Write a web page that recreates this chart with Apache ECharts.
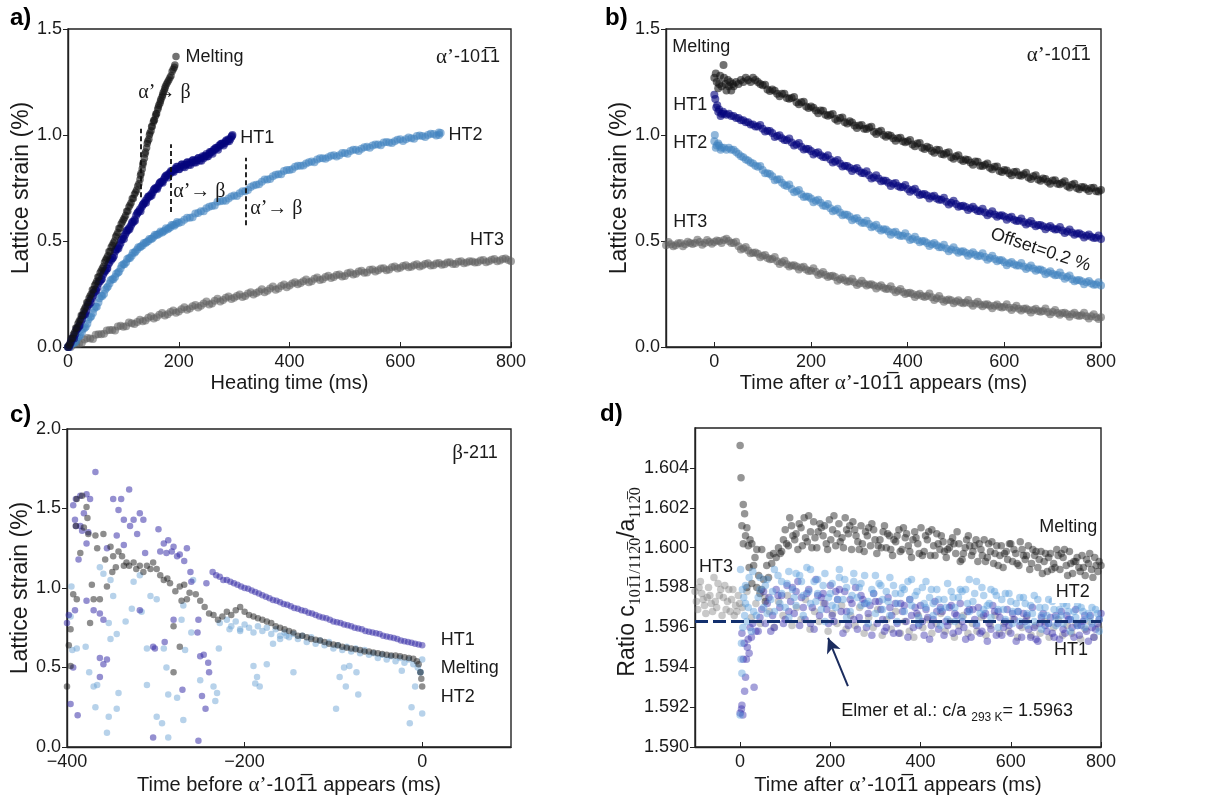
<!DOCTYPE html>
<html><head><meta charset="utf-8">
<script src="https://cdn.jsdelivr.net/npm/echarts@6/dist/echarts.min.js"></script>
<style>html,body{margin:0;padding:0;background:#fff}#c{width:1212px;height:803px}</style>
</head><body><div id="c"></div>
<script>
// ---------------- DATA ----------------
// Panel a: heating time (ms) vs lattice strain (%)
const aMelting = [[0,0.00],[2,0.01],[4,0.02],[6,0.04],[8,0.04],[10,0.06],[12,0.07],[14,0.09],[16,0.09],[18,0.11],[20,0.12],[22,0.13],[24,0.15],[26,0.15],[28,0.17],[30,0.18],[32,0.19],[34,0.21],[36,0.21],[38,0.23],[40,0.24],[42,0.25],[44,0.27],[46,0.27],[48,0.29],[50,0.30],[52,0.31],[54,0.33],[56,0.33],[58,0.35],[60,0.36],[62,0.37],[64,0.38],[66,0.40],[68,0.41],[70,0.42],[72,0.43],[74,0.45],[76,0.45],[78,0.47],[80,0.48],[82,0.49],[84,0.50],[86,0.52],[88,0.53],[90,0.54],[92,0.56],[94,0.56],[96,0.58],[98,0.59],[100,0.60],[102,0.61],[104,0.62],[106,0.64],[108,0.64],[110,0.66],[112,0.67],[114,0.68],[116,0.70],[118,0.70],[120,0.72],[122,0.73],[124,0.74],[126,0.76],[128,0.77],[130,0.79],[131,0.81],[132,0.82],[134,0.84],[135,0.86],[136,0.87],[138,0.89],[139,0.91],[140,0.92],[142,0.94],[143,0.96],[144,0.97],[146,0.98],[147,1.00],[148,1.01],[150,1.02],[151,1.04],[152,1.04],[154,1.06],[155,1.07],[156,1.07],[158,1.09],[159,1.10],[160,1.10],[162,1.12],[163,1.13],[164,1.14],[166,1.15],[167,1.16],[168,1.17],[170,1.18],[171,1.19],[172,1.20],[174,1.21],[175,1.22],[176,1.23],[178,1.24],[180,1.25],[182,1.26],[184,1.27],[186,1.28],[188,1.30],[190,1.31],[192,1.32],[193,1.33],[195,1.37]];
const aHT1 = [[0,0.00],[3,0.01],[5,0.02],[8,0.04],[10,0.05],[13,0.06],[15,0.08],[18,0.09],[20,0.10],[23,0.12],[25,0.13],[28,0.15],[30,0.16],[33,0.17],[35,0.19],[38,0.20],[40,0.22],[43,0.23],[45,0.24],[48,0.26],[50,0.27],[53,0.28],[55,0.30],[58,0.31],[60,0.32],[63,0.34],[65,0.35],[68,0.36],[70,0.37],[73,0.39],[75,0.40],[78,0.41],[80,0.42],[83,0.43],[85,0.45],[88,0.46],[90,0.47],[93,0.48],[95,0.49],[98,0.51],[100,0.52],[103,0.53],[105,0.54],[108,0.55],[110,0.56],[113,0.57],[115,0.58],[118,0.59],[120,0.60],[123,0.62],[125,0.63],[128,0.64],[130,0.65],[133,0.66],[135,0.67],[138,0.68],[140,0.69],[143,0.70],[145,0.71],[148,0.71],[150,0.72],[153,0.73],[155,0.74],[158,0.75],[160,0.75],[163,0.76],[165,0.77],[168,0.78],[170,0.78],[173,0.79],[175,0.80],[178,0.81],[180,0.81],[183,0.82],[185,0.82],[188,0.83],[190,0.83],[193,0.84],[195,0.84],[198,0.85],[200,0.84],[203,0.85],[205,0.86],[208,0.85],[210,0.86],[213,0.86],[215,0.87],[218,0.86],[220,0.87],[223,0.87],[225,0.88],[228,0.87],[230,0.88],[233,0.88],[235,0.89],[238,0.88],[240,0.89],[243,0.90],[245,0.89],[248,0.90],[250,0.91],[253,0.90],[255,0.91],[258,0.92],[260,0.92],[263,0.93],[265,0.93],[268,0.94],[270,0.94],[273,0.95],[275,0.95],[278,0.96],[280,0.96],[283,0.96],[285,0.97],[288,0.97],[290,0.98],[293,0.98],[295,0.99],[297,1.00]];
const aHT1b = [[2,0.0],[6,0.03],[11,0.04],[16,0.085],[21,0.1],[26,0.145],[31,0.155],[36,0.2],[41,0.21],[46,0.255],[51,0.265],[56,0.31],[61,0.32],[66,0.36],[71,0.37],[76,0.415],[81,0.42],[86,0.46],[91,0.465],[96,0.505],[101,0.51],[106,0.55],[111,0.555],[116,0.59],[121,0.595],[126,0.635],[131,0.64],[136,0.675],[141,0.68],[146,0.71],[151,0.715],[156,0.745],[161,0.745],[166,0.775],[171,0.775],[176,0.805],[181,0.8],[186,0.83],[191,0.825],[196,0.85],[201,0.838],[206,0.862],[211,0.848],[216,0.872],[221,0.858],[226,0.882],[231,0.87],[236,0.892],[241,0.878],[246,0.9],[251,0.898],[256,0.92],[261,0.912],[266,0.938],[271,0.93],[276,0.958],[281,0.95],[286,0.975],[291,0.97],[296,0.995]];
const aHT2 = [[0,0.00],[5,0.01],[10,0.02],[15,0.03],[20,0.05],[25,0.07],[30,0.09],[35,0.11],[40,0.14],[45,0.16],[50,0.19],[55,0.21],[60,0.24],[65,0.25],[70,0.28],[75,0.30],[80,0.32],[85,0.33],[90,0.35],[95,0.37],[100,0.39],[105,0.40],[110,0.42],[115,0.43],[120,0.445],[125,0.46],[130,0.47],[135,0.48],[140,0.49],[145,0.50],[150,0.51],[155,0.52],[160,0.53],[165,0.535],[170,0.54],[175,0.55],[180,0.555],[185,0.565],[190,0.575],[195,0.58],[200,0.585],[210,0.60],[220,0.61],[230,0.63],[240,0.64],[250,0.655],[260,0.665],[270,0.685],[280,0.69],[290,0.70],[300,0.715],[310,0.725],[320,0.735],[330,0.755],[340,0.765],[350,0.78],[360,0.79],[370,0.805],[380,0.815],[390,0.83],[400,0.835],[410,0.85],[420,0.855],[430,0.865],[440,0.875],[450,0.885],[460,0.89],[470,0.895],[480,0.905],[490,0.905],[500,0.915],[510,0.925],[520,0.93],[530,0.935],[540,0.945],[550,0.95],[560,0.955],[570,0.965],[580,0.965],[590,0.97],[600,0.98],[610,0.98],[620,0.985],[630,0.995],[640,0.995],[650,1.0],[660,1.005],[670,1.0],[673,1.01]];
const aHT2b = [[2,0.0],[7,0.015],[12,0.02],[17,0.045],[22,0.055],[27,0.085],[32,0.095],[37,0.13],[42,0.145],[47,0.18],[52,0.19],[57,0.23],[62,0.24],[67,0.27],[72,0.285],[77,0.315],[82,0.32],[87,0.345],[92,0.355],[97,0.385],[102,0.39],[107,0.415],[112,0.42],[117,0.445],[122,0.45],[127,0.47],[132,0.475],[137,0.49],[142,0.495],[147,0.51],[152,0.512],[157,0.53],[162,0.53],[167,0.545],[172,0.545],[177,0.56],[182,0.56],[187,0.575],[192,0.572],[197,0.59],[205,0.59],[215,0.61],[225,0.612],[235,0.632],[245,0.64],[255,0.662],[265,0.668],[275,0.688],[285,0.69],[295,0.71],[305,0.712],[315,0.735],[325,0.74],[335,0.762],[345,0.768],[355,0.79],[365,0.792],[375,0.812],[385,0.815],[395,0.835],[405,0.838],[415,0.855],[425,0.856],[435,0.872],[445,0.872],[455,0.89],[465,0.888],[475,0.902],[485,0.898],[495,0.915],[505,0.912],[515,0.93],[525,0.925],[535,0.942],[545,0.94],[555,0.955],[565,0.952],[575,0.967],[585,0.962],[595,0.978],[605,0.972],[615,0.988],[625,0.982],[635,0.998],[645,0.99],[655,1.006],[665,0.998],[670,1.012]];
const aHT3 = [[0,0.0],[10,0.012],[20,0.015],[30,0.035],[40,0.04],[50,0.058],[60,0.06],[70,0.078],[80,0.08],[90,0.097],[100,0.095],[110,0.115],[120,0.108],[130,0.128],[140,0.125],[150,0.145],[160,0.14],[170,0.16],[180,0.155],[190,0.172],[200,0.168],[210,0.188],[220,0.182],[230,0.198],[240,0.195],[250,0.215],[260,0.205],[270,0.228],[280,0.222],[290,0.238],[300,0.232],[310,0.248],[320,0.24],[330,0.258],[340,0.255],[350,0.272],[360,0.265],[370,0.285],[380,0.276],[390,0.295],[400,0.29],[410,0.305],[420,0.302],[430,0.318],[440,0.31],[450,0.328],[460,0.32],[470,0.336],[480,0.33],[490,0.342],[500,0.335],[510,0.352],[520,0.346],[530,0.36],[540,0.352],[550,0.366],[560,0.362],[570,0.372],[580,0.366],[590,0.38],[600,0.374],[610,0.386],[620,0.378],[630,0.39],[640,0.384],[650,0.395],[660,0.386],[670,0.396],[680,0.39],[690,0.4],[700,0.392],[710,0.405],[720,0.398],[730,0.403],[740,0.4],[750,0.41],[760,0.405],[770,0.415],[780,0.408],[790,0.418],[800,0.405]];
const aHT3b = [[5,0.0],[15,0.015],[25,0.02],[35,0.042],[45,0.038],[55,0.06],[65,0.062],[75,0.08],[85,0.078],[95,0.1],[105,0.098],[115,0.112],[125,0.118],[135,0.122],[145,0.138],[155,0.135],[165,0.152],[175,0.148],[185,0.165],[195,0.162],[205,0.178],[215,0.176],[225,0.192],[235,0.186],[245,0.205],[255,0.2],[265,0.218],[275,0.215],[285,0.232],[295,0.226],[305,0.24],[315,0.236],[325,0.252],[335,0.248],[345,0.262],[355,0.258],[365,0.276],[375,0.27],[385,0.288],[395,0.282],[405,0.3],[415,0.296],[425,0.31],[435,0.306],[445,0.322],[455,0.316],[465,0.33],[475,0.325],[485,0.34],[495,0.332],[505,0.348],[515,0.342],[525,0.356],[535,0.35],[545,0.364],[555,0.356],[565,0.37],[575,0.362],[585,0.376],[595,0.37],[605,0.382],[615,0.376],[625,0.386],[635,0.38],[645,0.392],[655,0.385],[665,0.394],[675,0.388],[685,0.398],[695,0.392],[705,0.402],[715,0.395],[725,0.404],[735,0.398],[745,0.408],[755,0.4],[765,0.412],[775,0.405],[785,0.415],[795,0.41]];

// Panel b: time after alpha' appears (ms) vs lattice strain (%)
const bMelting = [[0,1.27],[3,1.29],[5,1.25],[8,1.22],[10,1.24],[12,1.28],[15,1.23],[19,1.33],[20,1.27],[23,1.24],[25,1.21],[28,1.26],[30,1.23],[33,1.25],[35,1.21],[38,1.24],[40,1.23],[45,1.25],[50,1.24],[55,1.26],[60,1.25],[65,1.27],[70,1.26],[75,1.25],[80,1.27],[85,1.26],[90,1.25],[95,1.24],[100,1.235],[110,1.215],[120,1.215],[130,1.195],[140,1.195],[150,1.175],[160,1.175],[170,1.155],[180,1.155],[190,1.135],[200,1.135],[210,1.115],[220,1.115],[230,1.095],[240,1.095],[250,1.075],[260,1.08],[270,1.06],[280,1.065],[290,1.045],[300,1.045],[310,1.03],[320,1.035],[330,1.015],[340,1.015],[350,1.0],[360,1.0],[370,0.985],[380,0.985],[390,0.97],[400,0.97],[410,0.955],[420,0.96],[430,0.94],[440,0.945],[450,0.925],[460,0.93],[470,0.91],[480,0.915],[490,0.895],[500,0.90],[510,0.885],[520,0.885],[530,0.87],[540,0.875],[550,0.855],[560,0.86],[570,0.845],[580,0.85],[590,0.83],[600,0.835],[610,0.82],[620,0.825],[630,0.81],[640,0.815],[650,0.80],[660,0.805],[670,0.79],[680,0.795],[690,0.78],[700,0.785],[710,0.77],[720,0.775],[730,0.76],[740,0.765],[750,0.75],[760,0.755],[770,0.745],[780,0.75],[790,0.735],[800,0.74]];
const bMeltingb = [[105,1.237],[115,1.207],[125,1.209],[135,1.183],[145,1.194],[155,1.171],[165,1.179],[175,1.145],[185,1.157],[195,1.127],[205,1.129],[215,1.103],[225,1.114],[235,1.091],[245,1.099],[255,1.067],[265,1.082],[275,1.054],[285,1.059],[295,1.033],[305,1.047],[315,1.028],[325,1.039],[335,1.005],[345,1.02],[355,0.992],[365,0.997],[375,0.973],[385,0.987],[395,0.966],[405,0.977],[415,0.947],[425,0.962],[435,0.934],[445,0.939],[455,0.916],[465,0.929],[475,0.908],[485,0.919],[495,0.888],[505,0.904],[515,0.877],[525,0.882],[535,0.86],[545,0.874],[555,0.854],[565,0.866],[575,0.838],[585,0.852],[595,0.825],[605,0.832],[615,0.81],[625,0.827],[635,0.808],[645,0.822],[655,0.792],[665,0.81],[675,0.784],[685,0.792],[695,0.77],[705,0.787],[715,0.768],[725,0.782],[735,0.752],[745,0.77],[755,0.744],[765,0.754],[775,0.736],[785,0.751],[795,0.734]];
const bHT1 = [[0,1.19],[2,1.17],[4,1.13],[6,1.14],[8,1.11],[10,1.12],[13,1.09],[15,1.10],[18,1.11],[20,1.10],[25,1.095],[30,1.10],[35,1.09],[40,1.09],[45,1.08],[50,1.08],[55,1.07],[60,1.07],[65,1.06],[70,1.06],[75,1.05],[80,1.05],[85,1.04],[90,1.04],[100,1.03],[110,1.02],[120,1.01],[130,0.995],[140,0.985],[150,0.975],[160,0.965],[170,0.955],[180,0.945],[190,0.935],[200,0.925],[210,0.915],[220,0.905],[230,0.895],[240,0.885],[250,0.875],[260,0.865],[270,0.855],[280,0.845],[290,0.84],[300,0.83],[310,0.82],[320,0.81],[330,0.80],[340,0.795],[350,0.785],[360,0.775],[370,0.77],[380,0.76],[390,0.755],[400,0.745],[410,0.74],[420,0.73],[430,0.72],[440,0.715],[450,0.71],[460,0.70],[470,0.695],[480,0.685],[490,0.68],[500,0.675],[510,0.665],[520,0.66],[530,0.655],[540,0.65],[550,0.64],[560,0.635],[570,0.63],[580,0.625],[590,0.62],[600,0.615],[610,0.61],[620,0.60],[630,0.595],[640,0.59],[650,0.585],[660,0.58],[670,0.575],[680,0.57],[690,0.565],[700,0.56],[710,0.555],[720,0.55],[730,0.545],[740,0.54],[750,0.535],[760,0.53],[770,0.525],[780,0.52],[790,0.515],[800,0.51]];
const bHT1b = [[95,1.047],[105,1.017],[115,1.019],[125,0.99],[135,0.999],[145,0.976],[155,0.984],[165,0.95],[175,0.962],[185,0.932],[195,0.934],[205,0.908],[215,0.919],[225,0.896],[235,0.904],[245,0.87],[255,0.882],[265,0.852],[275,0.854],[285,0.83],[295,0.844],[305,0.821],[315,0.829],[325,0.795],[335,0.81],[345,0.782],[355,0.784],[365,0.76],[375,0.774],[385,0.754],[395,0.764],[405,0.732],[415,0.747],[425,0.717],[435,0.722],[445,0.7],[455,0.714],[465,0.694],[475,0.704],[485,0.672],[495,0.69],[505,0.662],[515,0.666],[525,0.646],[535,0.661],[545,0.641],[555,0.652],[565,0.622],[575,0.64],[585,0.614],[595,0.622],[605,0.6],[615,0.614],[625,0.594],[635,0.606],[645,0.578],[655,0.594],[665,0.57],[675,0.576],[685,0.556],[695,0.571],[705,0.554],[715,0.566],[725,0.538],[735,0.554],[745,0.53],[755,0.536],[765,0.516],[775,0.531],[785,0.514],[795,0.526]];
const bHT2 = [[0,0.97],[1,1.00],[3,0.94],[5,0.95],[8,0.96],[10,0.95],[13,0.93],[15,0.94],[20,0.94],[25,0.93],[30,0.94],[35,0.93],[40,0.93],[45,0.92],[50,0.91],[55,0.90],[60,0.895],[65,0.885],[70,0.88],[75,0.87],[80,0.865],[85,0.855],[90,0.85],[100,0.835],[110,0.82],[120,0.805],[130,0.79],[140,0.775],[150,0.76],[160,0.745],[170,0.735],[180,0.72],[190,0.71],[200,0.70],[210,0.69],[220,0.68],[230,0.665],[240,0.655],[250,0.645],[260,0.635],[270,0.625],[280,0.615],[290,0.605],[300,0.595],[310,0.585],[320,0.58],[330,0.57],[340,0.56],[350,0.555],[360,0.545],[370,0.54],[380,0.53],[390,0.525],[400,0.52],[410,0.51],[420,0.505],[430,0.50],[440,0.49],[450,0.485],[460,0.48],[470,0.47],[480,0.465],[490,0.46],[500,0.455],[510,0.45],[520,0.445],[530,0.44],[540,0.435],[550,0.43],[560,0.425],[570,0.42],[580,0.415],[590,0.41],[600,0.40],[610,0.395],[620,0.39],[630,0.385],[640,0.38],[650,0.375],[660,0.37],[670,0.365],[680,0.36],[690,0.35],[700,0.345],[710,0.34],[720,0.335],[730,0.33],[740,0.32],[750,0.315],[760,0.31],[770,0.305],[780,0.30],[790,0.295],[800,0.29]];
const bHT2b = [[95,0.854],[105,0.82],[115,0.816],[125,0.786],[135,0.791],[145,0.764],[155,0.766],[165,0.73],[175,0.74],[185,0.707],[195,0.709],[205,0.683],[215,0.694],[225,0.668],[235,0.674],[245,0.64],[255,0.652],[265,0.622],[275,0.624],[285,0.598],[295,0.609],[305,0.586],[315,0.596],[325,0.565],[335,0.577],[345,0.55],[355,0.554],[365,0.53],[375,0.544],[385,0.524],[395,0.536],[405,0.505],[415,0.52],[425,0.494],[435,0.499],[445,0.476],[455,0.491],[465,0.471],[475,0.482],[485,0.452],[495,0.47],[505,0.444],[515,0.452],[525,0.43],[535,0.447],[545,0.428],[555,0.442],[565,0.412],[575,0.43],[585,0.404],[595,0.409],[605,0.386],[615,0.401],[625,0.384],[635,0.396],[645,0.368],[655,0.384],[665,0.36],[675,0.366],[685,0.343],[695,0.357],[705,0.338],[715,0.352],[725,0.322],[735,0.337],[745,0.31],[755,0.316],[765,0.296],[775,0.311],[785,0.294],[795,0.306]];
const bHT3 = [[-100,0.48],[-90,0.485],[-80,0.48],[-70,0.49],[-60,0.485],[-50,0.49],[-40,0.49],[-30,0.495],[-20,0.49],[-10,0.495],[0,0.495],[10,0.50],[20,0.505],[30,0.50],[40,0.49],[50,0.475],[60,0.465],[70,0.455],[80,0.445],[90,0.44],[100,0.43],[110,0.42],[120,0.415],[130,0.405],[140,0.40],[150,0.39],[160,0.385],[170,0.38],[180,0.375],[190,0.365],[200,0.36],[210,0.355],[220,0.345],[230,0.34],[240,0.335],[250,0.33],[260,0.32],[270,0.315],[280,0.31],[290,0.305],[300,0.30],[310,0.30],[320,0.295],[330,0.29],[340,0.285],[350,0.28],[360,0.275],[370,0.27],[380,0.265],[390,0.26],[400,0.255],[410,0.25],[420,0.245],[430,0.24],[440,0.24],[450,0.235],[460,0.23],[470,0.225],[480,0.22],[490,0.22],[500,0.215],[510,0.21],[520,0.21],[530,0.205],[540,0.205],[550,0.20],[560,0.20],[570,0.195],[580,0.195],[590,0.19],[600,0.19],[610,0.185],[620,0.185],[630,0.18],[640,0.18],[650,0.175],[660,0.175],[670,0.17],[680,0.17],[690,0.165],[700,0.165],[710,0.16],[720,0.16],[730,0.155],[740,0.155],[750,0.15],[760,0.15],[770,0.145],[780,0.145],[790,0.14],[800,0.14]];
const bHT3b = [[-95,0.495],[-85,0.475],[-75,0.489],[-65,0.475],[-55,0.497],[-45,0.486],[-35,0.506],[-25,0.482],[-15,0.505],[-5,0.487],[5,0.502],[15,0.491],[25,0.511],[35,0.491],[45,0.496],[55,0.46],[65,0.472],[75,0.442],[85,0.446],[95,0.423],[105,0.434],[115,0.414],[125,0.424],[135,0.392],[145,0.407],[155,0.38],[165,0.386],[175,0.366],[185,0.379],[195,0.358],[205,0.372],[215,0.34],[225,0.354],[235,0.33],[245,0.336],[255,0.313],[265,0.327],[275,0.308],[285,0.322],[295,0.292],[305,0.312],[315,0.29],[325,0.296],[335,0.276],[345,0.291],[355,0.274],[365,0.286],[375,0.258],[385,0.274],[395,0.25],[405,0.256],[415,0.236],[425,0.251],[435,0.236],[445,0.252],[455,0.222],[465,0.24],[475,0.214],[485,0.224],[495,0.206],[505,0.221],[515,0.206],[525,0.222],[535,0.195],[545,0.214],[555,0.192],[565,0.202],[575,0.183],[585,0.201],[595,0.186],[605,0.202],[615,0.175],[625,0.194],[635,0.172],[645,0.182],[655,0.163],[665,0.181],[675,0.166],[685,0.182],[695,0.155],[705,0.174],[715,0.152],[725,0.162],[735,0.143],[745,0.161],[755,0.146],[765,0.162],[775,0.135],[785,0.154],[795,0.132]];

// Panel c: time before alpha' appears (ms) vs beta-211 lattice strain (%)
const cHT1 = [[-368,1.73],[-390,1.56],[-385,1.58],[-378,1.59],[-374,1.56],[-391,1.43],[-385,1.39],[-390,1.39],[-383,1.36],[-378,1.28],[-387,1.18],[-391,0.86],[-378,0.92],[-398,0.83],[-370,0.86],[-363,0.84],[-359,0.80],[-355,0.55],[-363,0.56],[-359,0.52],[-363,0.44],[-396,0.27],[-388,0.20],[-348,1.56],[-342,1.49],[-339,1.56],[-330,1.62],[-336,1.43],[-329,1.39],[-321,1.34],[-318,1.47],[-314,1.43],[-336,1.27],[-344,1.33],[-297,1.37],[-291,1.28],[-286,1.30],[-280,1.26],[-295,1.23],[-288,1.22],[-282,1.23],[-276,1.20],[-273,1.21],[-265,1.25],[-312,1.22],[-303,0.63],[-301,0.62],[-280,0.80],[-270,0.36],[-250,0.57],[-246,0.58],[-241,0.53],[-240,0.47],[-248,0.32],[-244,0.24],[-252,0.04],[-303,0.06],[-261,1.10],[-260,1.04],[-252,0.80],[-243,1.03],[-253,0.72],[-376,1.35],[-381,1.47],[-393,1.52],[-355,1.25],[-325,1.43],[-400,0.78],[-393,0.50],[-268,1.17],[-290,0.66],[-318,0.86],
 [-236,1.10],[-232,1.08],[-228,1.07],[-224,1.05],[-220,1.05],[-216,1.04],[-212,1.03],[-208,1.02],[-204,1.01],[-200,1.00],[-196,0.995],[-192,0.985],[-188,0.975],[-184,0.965],[-180,0.955],[-176,0.945],[-172,0.935],[-168,0.925],[-164,0.92],[-160,0.91],[-156,0.90],[-152,0.895],[-148,0.885],[-144,0.875],[-140,0.87],[-136,0.86],[-132,0.855],[-128,0.845],[-124,0.84],[-120,0.83],[-116,0.82],[-112,0.815],[-108,0.81],[-104,0.80],[-100,0.79],[-96,0.785],[-92,0.78],[-88,0.77],[-84,0.765],[-80,0.76],[-76,0.75],[-72,0.745],[-68,0.74],[-64,0.73],[-60,0.725],[-56,0.72],[-52,0.715],[-48,0.71],[-44,0.70],[-40,0.695],[-36,0.69],[-32,0.685],[-28,0.68],[-24,0.67],[-20,0.665],[-16,0.66],[-12,0.655],[-8,0.65],[-4,0.645],[0,0.64]];
const cMelting = [[-389,1.56],[-383,1.58],[-378,1.51],[-377,1.44],[-390,1.39],[-381,1.38],[-376,1.34],[-366,1.25],[-385,1.22],[-368,1.33],[-359,1.34],[-351,1.26],[-342,1.23],[-348,1.20],[-338,1.20],[-333,1.16],[-325,1.16],[-318,1.14],[-310,1.14],[-303,1.16],[-299,1.12],[-291,1.05],[-284,1.03],[-273,1.01],[-372,1.02],[-370,0.93],[-393,0.96],[-389,0.93],[-396,0.74],[-355,1.01],[-363,0.93],[-374,0.78],[-280,0.76],[-280,0.47],[-273,0.63],[-265,0.93],[-271,0.92],[-400,0.38],[-398,0.64],[-396,0.51],[-345,1.13],[-330,1.14],[-322,1.12],[-314,1.10],[-306,1.12],[-295,1.08],[-287,1.06],[-278,0.98],[-268,1.02],[-262,0.97],[-357,1.18],[-349,1.10],[-336,1.14],
 [-255,0.96],[-250,0.92],[-245,0.88],[-240,0.84],[-235,0.83],[-230,0.80],[-225,0.82],[-220,0.85],[-215,0.83],[-210,0.86],[-205,0.88],[-200,0.85],[-195,0.83],[-190,0.82],[-185,0.81],[-180,0.80],[-175,0.79],[-170,0.78],[-165,0.76],[-160,0.75],[-155,0.74],[-150,0.73],[-145,0.72],[-140,0.70],[-135,0.70],[-130,0.69],[-125,0.68],[-120,0.675],[-115,0.67],[-110,0.66],[-105,0.65],[-100,0.645],[-95,0.64],[-90,0.63],[-85,0.625],[-80,0.62],[-75,0.615],[-70,0.61],[-65,0.60],[-60,0.60],[-55,0.595],[-50,0.59],[-45,0.585],[-40,0.58],[-35,0.575],[-30,0.575],[-25,0.57],[-20,0.565],[-15,0.56],[-10,0.555],[-6,0.54],[-4,0.52],[-2,0.47],[-1,0.43],[0,0.38]];
const cHT2 = [[-395,1.01],[-396,0.82],[-394,0.61],[-389,0.62],[-379,0.63],[-375,0.47],[-370,0.38],[-366,0.39],[-368,0.25],[-355,0.09],[-353,0.19],[-344,0.24],[-342,0.34],[-353,0.78],[-351,0.68],[-344,0.71],[-334,0.79],[-327,0.87],[-316,0.85],[-363,1.13],[-351,1.05],[-359,1.09],[-318,1.08],[-325,1.04],[-310,0.62],[-310,0.39],[-299,0.19],[-293,0.15],[-286,0.06],[-291,0.62],[-288,0.50],[-286,0.33],[-276,0.31],[-269,0.17],[-267,0.61],[-271,0.80],[-269,0.89],[-258,1.05],[-260,0.72],[-250,0.42],[-235,0.38],[-231,0.34],[-233,0.29],[-229,0.62],[-228,0.78],[-217,0.74],[-205,0.73],[-190,0.51],[-188,0.40],[-183,0.38],[-186,0.44],[-175,0.52],[-160,0.68],[-145,0.47],[-97,0.24],[-93,0.44],[-86,0.38],[-88,0.50],[-82,0.51],[-72,0.33],[-74,0.47],[-23,0.48],[-14,0.15],[-12,0.25],[-8,0.38],[-2,0.47],[0,0.21],[0,0.55],[-168,0.65],[-153,0.70],[-306,0.95],[-299,0.93],[-348,0.95],
 [-220,0.80],[-215,0.76],[-210,0.79],[-205,0.74],[-200,0.77],[-195,0.75],[-190,0.72],[-185,0.76],[-180,0.73],[-175,0.75],[-170,0.71],[-165,0.74],[-160,0.70],[-155,0.72],[-150,0.69],[-145,0.71],[-140,0.68],[-135,0.70],[-130,0.66],[-125,0.69],[-120,0.65],[-115,0.67],[-110,0.64],[-105,0.66],[-100,0.62],[-95,0.64],[-90,0.61],[-85,0.63],[-80,0.60],[-75,0.62],[-70,0.59],[-65,0.61],[-60,0.58],[-55,0.59],[-50,0.56],[-45,0.58],[-40,0.55],[-35,0.57],[-30,0.54],[-25,0.56],[-20,0.53],[-15,0.55],[-10,0.52],[-5,0.50],[-2,0.47]];

// Panel d: time after alpha' appears (ms) vs c/a ratio
const dMelting = [[0,1.60512],[2,1.6035],[7,1.60216],[10,1.6017],[4,1.6011],[15,1.6010],[7,1.6002],[18,1.6001],[26,1.6002],[37,1.5999],[48,1.5999],[12,1.6006],[22,1.6004],[30,1.5991],[37,1.5980],[44,1.5977],[15,1.5980],[52,1.5984],[59,1.5991],[66,1.5996],[74,1.5997],[89,1.5997],[96,1.6004],[56,1.5973],[63,1.5985],[70,1.5992],[80,1.5995],[85,1.6000],[92,1.5998],[41,1.5986],[33,1.5995],[26,1.5982],[20,1.5990],[48,1.5979],
 [100,1.6009],[107,1.6001],[114,1.6011],[121,1.6004],[128,1.5999],[135,1.6010],[142,1.6015],[149,1.6003],[156,1.6008],[163,1.6013],[170,1.6000],[177,1.6012],[184,1.6006],[191,1.6002],[198,1.6014],[205,1.6009],[212,1.6001],[219,1.6012],[226,1.6005],[233,1.6015],[240,1.6007],[247,1.5999],[254,1.6009],[261,1.6003],[268,1.6011],[275,1.5998],[282,1.6006],[289,1.6001],[296,1.6009],[303,1.5997],[310,1.6004],[317,1.6008],[324,1.6000],[331,1.6006],[338,1.5996],[345,1.6003],[352,1.6009],[359,1.5999],[366,1.6005],[373,1.6001],[380,1.5995],[387,1.6008],[394,1.6002],[401,1.6010],[408,1.5998],[415,1.6004],[422,1.5996],[429,1.6001],[436,1.6007],[443,1.5999],[450,1.6003],[457,1.5995],[464,1.6000],[471,1.6005],[478,1.5997],[485,1.6002],[492,1.5994],[499,1.6000],[506,1.6006],[513,1.5996],[520,1.6001],[527,1.5993],[534,1.5999],[541,1.6004],[548,1.5995],[555,1.5998],[562,1.5992],[569,1.6001],[576,1.5996],[583,1.5990],[590,1.5998],[597,1.6002],[604,1.5993],[611,1.5997],[618,1.5991],[625,1.5999],[632,1.5994],[639,1.6001],[646,1.5992],[653,1.5996],[660,1.5990],[667,1.5998],[674,1.5993],[681,1.5988],[688,1.5997],[695,1.5992],[702,1.5999],[709,1.5989],[716,1.5995],[723,1.5991],[730,1.5998],[737,1.5987],[744,1.5993],[751,1.5990],[758,1.5996],[765,1.5986],[772,1.5992],[779,1.5989],[786,1.5995],[793,1.5988],[800,1.5991],
 [103,1.6002],[117,1.6006],[131,1.6012],[145,1.6005],[159,1.6000],[173,1.6008],[187,1.6011],[201,1.6004],[215,1.6007],[229,1.6000],[243,1.6011],[257,1.6006],[271,1.6002],[285,1.6010],[299,1.6004],[313,1.6000],[327,1.6007],[341,1.6004],[355,1.5998],[369,1.6007],[383,1.6004],[397,1.5997],[411,1.6006],[425,1.6009],[439,1.6002],[453,1.5998],[467,1.6003],[481,1.6008],[495,1.5997],[509,1.6001],[523,1.6004],[537,1.5996],[551,1.6002],[565,1.5997],[579,1.6001],[593,1.5994],[607,1.5999],[621,1.6003],[635,1.5996],[649,1.5999],[663,1.5994],[677,1.5997],[691,1.5989],[705,1.5996],[719,1.5999],[733,1.5992],[747,1.5995],[761,1.5990],[775,1.5997],[789,1.5991],
 [110,1.6015],[124,1.6007],[138,1.6001],[152,1.6016],[166,1.6005],[180,1.6010],[194,1.5999],[208,1.6016],[222,1.6003],[236,1.6009],[250,1.6013],[264,1.5999],[278,1.6008],[292,1.6012],[306,1.6001],[320,1.6011],[334,1.5999],[348,1.6006],[362,1.6010],[376,1.5998],[390,1.6005],[404,1.5996],[418,1.6008],[432,1.5996],[446,1.6006],[460,1.5999],[474,1.6002],[488,1.5993],[502,1.6004],[516,1.5998],[530,1.6002],[544,1.5993],[558,1.6003],[572,1.5991],[586,1.5997],[600,1.6002],[614,1.5992],[628,1.5996],[642,1.5989],[656,1.5998],[670,1.5987],[684,1.5995],[698,1.5990],[712,1.5997],[726,1.5986],[740,1.5993],[754,1.5988],[768,1.5994],[782,1.5985],[796,1.5993]];
const dHT1 = [[0,1.5917],[3,1.5919],[6,1.5916],[4,1.5921],[10,1.5928],[12,1.5935],[7,1.5944],[14,1.5944],[16,1.5950],[18,1.5954],[25,1.5955],[31,1.5930],[4,1.5957],[22,1.5960],[9,1.5952],[28,1.5962],[35,1.5958],[20,1.5947],
 [40,1.5958],[48,1.5969],[56,1.5962],[64,1.5975],[72,1.5966],[80,1.5979],[88,1.5970],[96,1.5962],[104,1.5981],[112,1.5973],[120,1.5967],[128,1.5983],[136,1.5975],[144,1.5964],[152,1.5979],[160,1.5970],[168,1.5984],[176,1.5966],[184,1.5977],[192,1.5969],[200,1.5981],[208,1.5963],[216,1.5974],[224,1.5968],[232,1.5978],[240,1.5961],[248,1.5972],[256,1.5980],[264,1.5965],[272,1.5974],[280,1.5960],[288,1.5971],[296,1.5977],[304,1.5962],[312,1.5969],[320,1.5958],[328,1.5975],[336,1.5966],[344,1.5972],[352,1.5957],[360,1.5968],[368,1.5963],[376,1.5974],[384,1.5960],[392,1.5967],[400,1.5971],[408,1.5956],[416,1.5965],[424,1.5961],[432,1.5973],[440,1.5959],[448,1.5968],[456,1.5963],[464,1.5970],[472,1.5957],[480,1.5966],[488,1.5972],[496,1.5960],[504,1.5968],[512,1.5955],[520,1.5964],[528,1.5970],[536,1.5958],[544,1.5967],[552,1.5962],[560,1.5971],[568,1.5956],[576,1.5965],[584,1.5960],[592,1.5969],[600,1.5957],[608,1.5964],[616,1.5968],[624,1.5955],[632,1.5963],[640,1.5959],[648,1.5970],[656,1.5954],[664,1.5962],[672,1.5967],[680,1.5958],[688,1.5965],[696,1.5955],[704,1.5962],[712,1.5968],[720,1.5957],[728,1.5964],[736,1.5960],[744,1.5969],[752,1.5956],[760,1.5963],[768,1.5958],[776,1.5966],[784,1.5955],[792,1.5962],[800,1.5967],
 [44,1.5965],[60,1.5972],[76,1.5960],[92,1.5976],[108,1.5968],[124,1.5978],[140,1.5970],[156,1.5962],[172,1.5976],[188,1.5972],[204,1.5966],[220,1.5979],[236,1.5968],[252,1.5964],[268,1.5976],[284,1.5967],[300,1.5973],[316,1.5964],[332,1.5970],[348,1.5962],[364,1.5971],[380,1.5966],[396,1.5961],[412,1.5969],[428,1.5964],[444,1.5970],[460,1.5961],[476,1.5967],[492,1.5963],[508,1.5969],[524,1.5961],[540,1.5966],[556,1.5959],[572,1.5968],[588,1.5963],[604,1.5967],[620,1.5961],[636,1.5966],[652,1.5960],[668,1.5965],[684,1.5962],[700,1.5966],[716,1.5959],[732,1.5964],[748,1.5961],[764,1.5966],[780,1.5960],[796,1.5964],
 [52,1.5978],[68,1.5958],[84,1.5976],[100,1.5964],[116,1.5980],[132,1.5961],[148,1.5977],[164,1.5959],[180,1.5975],[196,1.5962],[212,1.5978],[228,1.5957],[244,1.5974],[260,1.5959],[276,1.5972],[292,1.5956],[308,1.5973],[324,1.5960],[340,1.5957],[356,1.5972],[372,1.5955],[388,1.5970],[404,1.5963],[420,1.5954],[436,1.5968],[452,1.5956],[468,1.5971],[484,1.5958],[500,1.5954],[516,1.5969],[532,1.5957],[548,1.5953],[564,1.5968],[580,1.5956],[596,1.5961],[612,1.5953],[628,1.5967],[644,1.5955],[660,1.5953],[676,1.5961],[692,1.5957],[708,1.5954],[724,1.5966],[740,1.5955],[756,1.5961],[772,1.5953],[788,1.5959]];
const dHT2 = [[0,1.5916],[2,1.5944],[4,1.5937],[1,1.5989],[6,1.5960],[10,1.5966],[3,1.5952],[8,1.5975],[15,1.5963],[12,1.5981],[18,1.5970],[25,1.5958],[30,1.5968],[5,1.5979],[20,1.5985],
 [36,1.5966],[44,1.5979],[52,1.5970],[60,1.5984],[68,1.5974],[76,1.5968],[84,1.5986],[92,1.5977],[100,1.5970],[108,1.5988],[116,1.5979],[124,1.5971],[132,1.5986],[140,1.5976],[148,1.5990],[156,1.5972],[164,1.5983],[172,1.5977],[180,1.5969],[188,1.5987],[196,1.5975],[204,1.5982],[212,1.5970],[220,1.5985],[228,1.5974],[236,1.5980],[244,1.5968],[252,1.5983],[260,1.5975],[268,1.5971],[276,1.5986],[284,1.5973],[292,1.5979],[300,1.5967],[308,1.5982],[316,1.5974],[324,1.5978],[332,1.5966],[340,1.5981],[348,1.5972],[356,1.5977],[364,1.5968],[372,1.5983],[380,1.5971],[388,1.5976],[396,1.5965],[404,1.5980],[412,1.5970],[420,1.5975],[428,1.5966],[436,1.5979],[444,1.5969],[452,1.5974],[460,1.5964],[468,1.5978],[476,1.5970],[484,1.5975],[492,1.5965],[500,1.5979],[508,1.5968],[516,1.5973],[524,1.5983],[532,1.5967],[540,1.5976],[548,1.5971],[556,1.5965],[564,1.5978],[572,1.5969],[580,1.5974],[588,1.5964],[596,1.5977],[604,1.5968],[612,1.5972],[620,1.5963],[628,1.5975],[636,1.5967],[644,1.5971],[652,1.5963],[660,1.5974],[668,1.5966],[676,1.5970],[684,1.5962],[692,1.5973],[700,1.5965],[708,1.5969],[716,1.5962],[724,1.5971],[732,1.5964],[740,1.5968],[748,1.5961],[756,1.5970],[764,1.5964],[772,1.5967],[780,1.5962],[788,1.5969],[796,1.5964],
 [40,1.5975],[56,1.5981],[72,1.5978],[88,1.5972],[104,1.5982],[120,1.5975],[136,1.5983],[152,1.5978],[168,1.5973],[184,1.5981],[200,1.5977],[216,1.5974],[232,1.5984],[248,1.5976],[264,1.5980],[280,1.5972],[296,1.5977],[312,1.5981],[328,1.5973],[344,1.5977],[360,1.5980],[376,1.5974],[392,1.5978],[408,1.5972],[424,1.5979],[440,1.5974],[456,1.5970],[472,1.5975],[488,1.5979],[504,1.5972],[520,1.5977],[536,1.5980],[552,1.5972],[568,1.5976],[584,1.5969],[600,1.5973],[616,1.5968],[632,1.5972],[648,1.5967],[664,1.5970],[680,1.5966],[696,1.5969],[712,1.5966],[728,1.5968],[744,1.5965],[760,1.5968],[776,1.5965],[792,1.5967],
 [12,1.5972],[28,1.5988],[44,1.5985],[60,1.5967],[76,1.5989],[92,1.5983],[108,1.5965],[124,1.5987],[140,1.5966],[156,1.5989],[172,1.5984],[188,1.5963],[204,1.5971],[220,1.5989],[236,1.5965],[252,1.5987],[268,1.5982],[284,1.5962],[300,1.5986],[316,1.5969],[332,1.5985],[348,1.5963],[364,1.5979],[380,1.5984],[396,1.5962],[412,1.5983],[428,1.5972],[444,1.5961],[460,1.5982],[476,1.5963],[492,1.5978],[508,1.5984],[524,1.5962],[540,1.5969],[556,1.5979],[572,1.5960],[588,1.5977],[604,1.5962],[620,1.5975],[636,1.5961],[652,1.5976],[668,1.5959],[684,1.5974],[700,1.5961],[716,1.5972],[732,1.5958],[748,1.5971],[764,1.5960],[780,1.5970],[796,1.5958]];
const dHT3 = [[-100,1.5978],[-94,1.5969],[-88,1.5983],[-82,1.5974],[-76,1.5967],[-70,1.5980],[-64,1.5972],[-58,1.5985],[-52,1.5970],[-46,1.5976],[-40,1.5966],[-34,1.5981],[-28,1.5973],[-22,1.5968],[-16,1.5979],[-10,1.5971],[-4,1.5976],[-97,1.5973],[-85,1.5977],[-73,1.5975],[-61,1.5968],[-49,1.5982],[-37,1.5975],[-25,1.5979],[-13,1.5966],[-1,1.5972],[-91,1.5980],[-79,1.5971],[-67,1.5976],[-55,1.5973],[-43,1.5979],[-31,1.5969],[-19,1.5974],[-7,1.5968],
 [5,1.5970],[15,1.5978],[25,1.5965],[35,1.5972],[45,1.5962],[55,1.5975],[65,1.5968],[75,1.5960],[85,1.5973],[95,1.5966],[105,1.5976],[115,1.5961],[125,1.5970],[135,1.5964],[145,1.5974],[155,1.5959],[165,1.5968],[175,1.5963],[185,1.5972],[195,1.5958],[205,1.5967],[215,1.5962],[225,1.5971],[235,1.5959],[245,1.5966],[255,1.5961],[265,1.5970],[275,1.5957],[285,1.5965],[295,1.5960],[305,1.5969],[315,1.5956],[325,1.5964],[335,1.5959],[345,1.5968],[355,1.5957],[365,1.5963],[375,1.5958],[385,1.5955],[395,1.5966],[405,1.5960],[415,1.5964],[425,1.5957],[435,1.5962],[445,1.5967],[455,1.5958],[465,1.5963],[475,1.5955],[485,1.5961],[495,1.5966],[505,1.5957],[515,1.5962],[525,1.5958],[535,1.5965],[545,1.5956],[555,1.5961],[565,1.5966],[575,1.5957],[585,1.5962],[595,1.5958],[605,1.5964],[615,1.5955],[625,1.5960],[635,1.5965],[645,1.5956],[655,1.5961],[665,1.5957],[675,1.5963],[685,1.5955],[695,1.5960],[705,1.5964],[715,1.5956],[725,1.5961],[735,1.5957],[745,1.5962],[755,1.5954],[765,1.5959],[775,1.5963],[785,1.5955],[795,1.5960]];

// Reference lines / markers
const aTransitions = [[131.8, 0.706, 1.03], [186, 0.637, 0.956], [321, 0.574, 0.893]]; // [x, yLow, yHigh]
const dElmer = 1.5963;
const dArrow = [[239, 1.59305], [195, 1.59547]];

// Tick values
const xTicksAB = [0, 200, 400, 600, 800];
const xTicksC = [-400, -200, 0];
const yTicksD = [1.590, 1.592, 1.594, 1.596, 1.598, 1.600, 1.602, 1.604];

// Text annotations [grid, x, y, text]
const notes = [
  [0, 212, 1.367, 'Melting'],
  [0, 311, 0.984, 'HT1'],
  [0, 687, 0.999, 'HT2'],
  [0, 726, 0.503, 'HT3'],
  [1, -87, 1.415, 'Melting'],
  [1, -85, 1.142, 'HT1'],
  [1, -85, 0.962, 'HT2'],
  [1, -85, 0.59, 'HT3'],
  [2, 21, 0.673, 'HT1'],
  [2, 21, 0.497, 'Melting'],
  [2, 21, 0.314, 'HT2'],
  [3, 663, 1.60105, 'Melting'],
  [3, 696, 1.59486, 'HT1'],
  [3, -91, 1.59903, 'HT3']
];
const arrowNotes = [[0, 127, 1.197], [0, 190, 0.73], [0, 329, 0.654]];
const phaseNotes = [[0, 780, 1.367, 'alpha'], [1, 779, 1.377, 'alpha'], [2, 85, 1.849, 'beta']];

// ---------------- CHART ----------------
const SANS = "'Liberation Sans', Arial, sans-serif";
const SERIF = "'Liberation Serif', 'Times New Roman', serif";
const INK = '#1a1a1a';
const OL = '\u0305';
const millerTxt = '10' + '1' + OL + '1';
const planeTxt = '11' + '2' + OL + '0';

const chart = echarts.init(document.getElementById('c'), null, {renderer: 'canvas'});

const grids = [
  {left: 68, top: 29, width: 443, height: 318},
  {left: 666, top: 29, width: 435, height: 318},
  {left: 67, top: 429, width: 444, height: 318},
  {left: 695, top: 428, width: 406, height: 319}
].map(g => Object.assign(g, {show: true, borderColor: '#222', borderWidth: 1.4, backgroundColor: 'transparent', containLabel: false}));

const lbl = {fontSize: 18, fontFamily: SANS, color: INK};
const xNameStyle = {fontSize: 20, fontFamily: SANS, color: INK,
  rich: {g: {fontSize: 21, fontFamily: SERIF, color: INK}}};
const yNameStyle = {fontSize: 23, fontFamily: SANS, color: INK};

function xAx(i, min, max, name, opts) {
  return Object.assign({
    type: 'value', gridIndex: i, min, max,
    name, nameLocation: 'middle', nameGap: 26, nameTextStyle: xNameStyle,
    axisLine: {show: true, onZero: false, lineStyle: {color: '#222', width: 1.4}},
    axisTick: {show: true, inside: true, length: 5, lineStyle: {color: '#222', width: 1}},
    axisLabel: Object.assign({margin: 6, formatter: v => String(v).replace('-', '\u2212')}, lbl),
    splitLine: {show: false}
  }, opts || {});
}
function yAx(i, min, max, interval, name, digits) {
  return {
    type: 'value', gridIndex: i, min, max, interval,
    name, nameLocation: 'middle', nameGap: 34, nameTextStyle: yNameStyle,
    axisLine: {show: true, onZero: false, lineStyle: {color: '#222', width: 1.4}},
    axisTick: {show: true, inside: false, length: 5, lineStyle: {color: '#222', width: 1}},
    axisLabel: Object.assign({margin: 6, formatter: v => v.toFixed(digits)}, lbl),
    splitLine: {show: false}
  };
}

const xTitleB = 'Time after {g|\u03b1\u2019}-' + millerTxt + ' appears (ms)';
const xTitleC = 'Time before {g|\u03b1\u2019}-' + millerTxt + ' appears (ms)';

const xAxes = [
  xAx(0, 0, 800, 'Heating time (ms)', {interval: 200}),
  xAx(1, -100, 800, xTitleB),
  xAx(2, -400, 100, xTitleC, {nameGap: 28}),
  xAx(3, -100, 800, xTitleB, {nameGap: 28})
];
[[1, xTicksAB], [3, xTicksAB], [2, xTicksC]].forEach(([k, t]) => {
  xAxes[k].axisLabel.customValues = t;
  xAxes[k].axisTick.customValues = t;
});

const yAxes = [
  yAx(0, 0, 1.5, 0.5, 'Lattice strain (%)', 1),
  yAx(1, 0, 1.5, 0.5, 'Lattice strain (%)', 1),
  yAx(2, 0, 2.0, 0.5, 'Lattice strain (%)', 1),
  yAx(3, 1.590, 1.606, 0.002, '', 3)
];
yAxes[3].axisLabel.customValues = yTicksD;
yAxes[3].axisTick.customValues = yTicksD;

const C = {
  melt: 'rgba(20,20,20,0.75)',
  ht1: 'rgba(5,5,125,0.78)',
  ht2: 'rgba(65,130,190,0.72)',
  ht3: 'rgba(95,95,95,0.72)',
  cHT1: 'rgba(50,40,165,0.65)',
  cHT2: 'rgba(105,160,212,0.6)',
  cMelt: 'rgba(25,25,25,0.62)',
  dHT1: 'rgba(50,40,170,0.55)',
  dHT2: 'rgba(85,155,218,0.55)',
  dHT3: 'rgba(120,120,120,0.5)',
  dMelt: 'rgba(25,25,25,0.58)'
};

function S(data, gi, color, size, extra) {
  return Object.assign({type: 'scatter', xAxisIndex: gi, yAxisIndex: gi, data, symbolSize: size,
    itemStyle: {color}, silent: true, animation: false}, extra || {});
}

const series = [
  S(aHT3.concat(aHT3b), 0, C.ht3, 8),
  S(aHT2.concat(aHT2b), 0, C.ht2, 8, {
    markLine: {silent: true, symbol: 'none', animation: false, label: {show: false},
      lineStyle: {color: '#111', width: 1.8, type: [5, 3]},
      data: aTransitions.map(t => [{coord: [t[0], t[1]]}, {coord: [t[0], t[2]]}])}
  }),
  S(aHT1.concat(aHT1b), 0, C.ht1, 8),
  S(aMelting, 0, C.melt, 7.5),
  S(bHT3.concat(bHT3b), 1, C.ht3, 8),
  S(bHT2.concat(bHT2b), 1, C.ht2, 8),
  S(bHT1.concat(bHT1b), 1, C.ht1, 8),
  S(bMelting.concat(bMeltingb), 1, C.melt, 8),
  S(cHT2, 2, C.cHT2, 6.5),
  S(cHT1, 2, C.cHT1, 6.5),
  S(cMelting, 2, C.cMelt, 6.5),
  S(dHT3, 3, C.dHT3, 7.5),
  S(dMelting, 3, C.dMelt, 7.5),
  S(dHT1, 3, C.dHT1, 7.5),
  S(dHT2, 3, C.dHT2, 7.5, {
    markLine: {silent: true, animation: false, label: {show: false}, symbol: 'none', z: 10,
      data: [
        [{coord: [-100, dElmer], lineStyle: {color: '#13306e', width: 3, type: [13, 5]}}, {coord: [800, dElmer]}],
        [{coord: dArrow[0], symbol: 'none', lineStyle: {color: '#1b2c5e', width: 2, type: 'solid'}},
         {coord: dArrow[1], symbol: 'arrow', symbolSize: [11, 15]}]
      ]}
  })
];

chart.setOption({animation: false, grid: grids, xAxis: xAxes, yAxis: yAxes, series});

// ---------------- TEXT ----------------
function P(g, x, y) { return chart.convertToPixel({gridIndex: g}, [x, y]); }
const gfx = [];
function txt(x, y, text, o) {
  gfx.push(Object.assign({type: 'text', x, y, z: 100,
    style: Object.assign({text, font: '18px ' + SANS, fill: INK, align: 'left', verticalAlign: 'middle'}, (o && o.style) || {})},
    o && o.rotation !== undefined ? {rotation: o.rotation} : {}));
}
notes.forEach(n => { const p = P(n[0], n[1], n[2]); txt(p[0], p[1], n[3]); });
// HT2 in panel d with white background
{ const p = P(3, 691, 1.59778);
  txt(p[0], p[1], 'HT2', {style: {backgroundColor: '#fff', padding: [2, 4, 2, 4]}}); }
// alpha' -> beta notes
arrowNotes.forEach(n => { const p = P(n[0], n[1], n[2]);
  txt(p[0], p[1], '\u03b1\u2019\u2192 \u03b2', {style: {font: '20px ' + SERIF}}); });
// phase labels
phaseNotes.forEach(n => { const p = P(n[0], n[1], n[2]);
  const t = n[3] === 'alpha' ? '{g|\u03b1\u2019}-' + millerTxt : '{g|\u03b2}-211';
  txt(p[0], p[1], t, {style: {align: 'right', rich: {g: {font: '21px ' + SERIF, fill: INK}}}}); });
// Offset label
{ const p = P(1, 675, 0.458);
  txt(p[0], p[1], 'Offset=0.2 %', {rotation: -0.32, style: {align: 'center', font: '18px ' + SANS}}); }
// Elmer label
{ const p = P(3, 224, 1.5918);
  txt(p[0], p[1], 'Elmer et al.: c/a {s|293 K}= 1.5963', {style: {lineHeight: 26,
    rich: {s: {font: '12px ' + SANS, fill: INK, verticalAlign: 'bottom', lineHeight: 12}}}}); }
// Panel d y-axis title
txt(628, 582, 'Ratio c{s|' + millerTxt + '/' + planeTxt + '}/a{s|' + planeTxt + '}',
  {rotation: Math.PI / 2, style: {align: 'center', font: '23px ' + SANS, lineHeight: 32,
    rich: {s: {font: '16px ' + SERIF, fill: INK, verticalAlign: 'bottom', lineHeight: 16}}}});
// Panel letters
[['a)', 10, 18], ['b)', 605, 18], ['c)', 10, 415], ['d)', 600, 414]].forEach(l =>
  txt(l[1], l[2], l[0], {style: {font: 'bold 24px ' + SANS, fill: '#000'}}));

chart.setOption({graphic: gfx});
</script></body></html>
